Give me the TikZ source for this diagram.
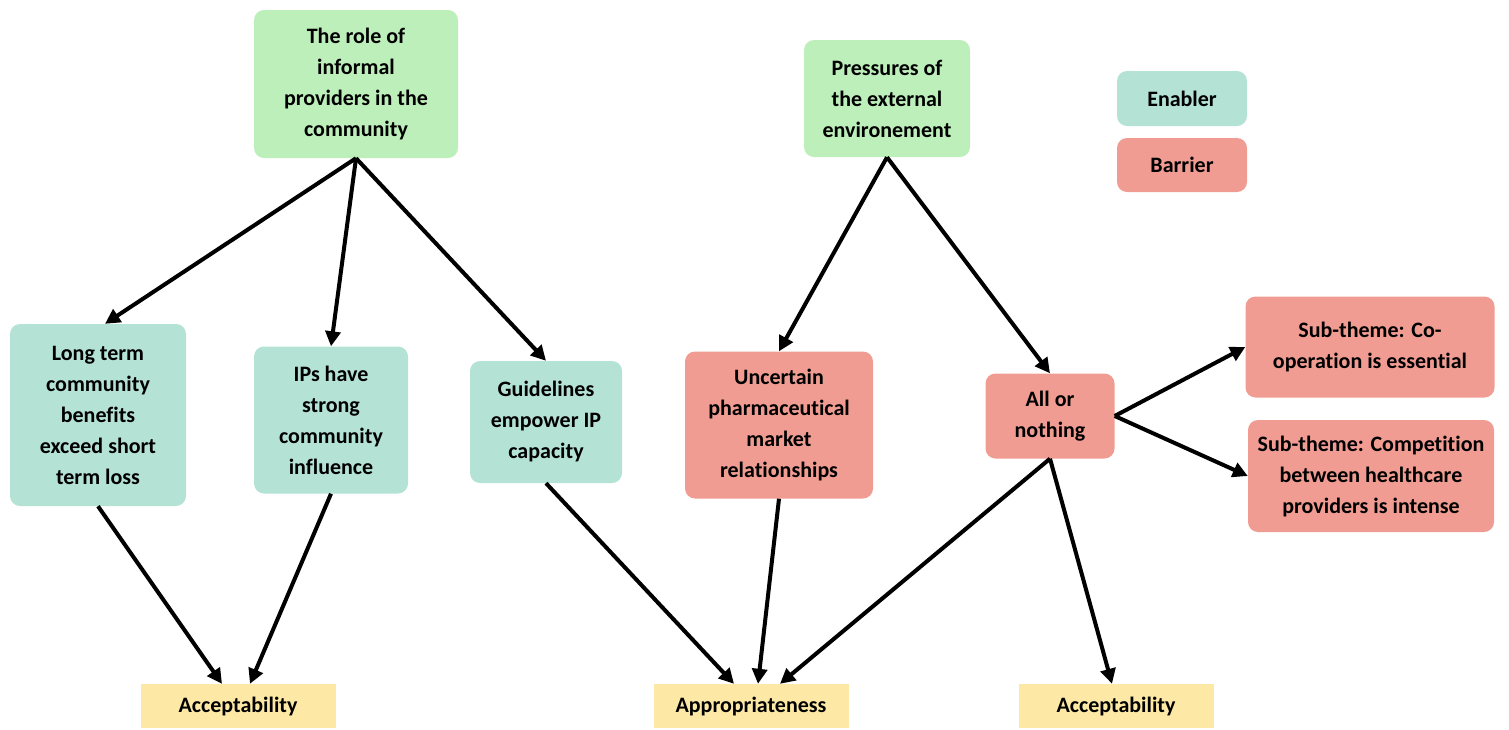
\documentclass[tikz,border=0pt]{standalone}
\usepackage{fontspec}
\setmainfont[Ligatures=NoCommon]{Carlito}
\usetikzlibrary{arrows.meta,calc}

\definecolor{themegreen}{HTML}{BDEFBA}
\definecolor{enablerteal}{HTML}{B4E2D5}
\definecolor{barrierred}{HTML}{F09C92}
\definecolor{outcomeyellow}{HTML}{FDE9A5}

\begin{document}
\begin{tikzpicture}[x=1pt, y=-1pt,
                    every box/.style = {align=center, inner sep=0pt, font=\fontsize{22}{31}\selectfont\bfseries},
                    theme/.style = {rounded corners=10pt, fill=themegreen, every box},
                    enabler/.style = {rounded corners=10pt, fill=enablerteal, every box},
                    barrier/.style = {rounded corners=10pt, fill=barrierred, every box},
                    outcome/.style = {fill=outcomeyellow, every box, minimum width=195pt, minimum height=44pt},
                    link/.style = {-{Triangle[length=15pt,width=15pt]}, line width=4pt, draw=black} ]

                \useasboundingbox (0,0) rectangle (1509,729);

                % themes
                \node [theme, minimum width=204pt, minimum height=148pt] (role) at (356,84) {The role of\\informal\\providers in the\\community};
                \node [theme, minimum width=166pt, minimum height=117pt] (pressures) at (887,98.5) {Pressures of\\the external\\environement};

                % legend
                \node [enabler, minimum width=130pt, minimum height=55pt] (keyenabler) at (1182,98.5) {Enabler};
                \node [barrier, minimum width=130pt, minimum height=54pt] (keybarrier) at (1182,165) {Barrier};

                % enablers and barriers
                \node [enabler, minimum width=176pt, minimum height=182pt] (longterm) at (98,415) {Long term\\community\\benefits\\exceed short\\term loss};
                \node [enabler, minimum width=154pt, minimum height=147pt] (influence) at (331,420) {IPs have\\strong\\community\\influence};
                \node [enabler, minimum width=152pt, minimum height=122pt] (guidelines) at (546,422) {Guidelines\\empower IP\\capacity};
                \node [barrier, minimum width=188pt, minimum height=147pt] (market) at (779,425) {Uncertain\\pharmaceutical\\market\\relationships};
                \node [barrier, minimum width=129pt, minimum height=85pt] (allnothing) at (1050,416) {All or\\nothing};
                \node [barrier, minimum width=249pt, minimum height=101pt] (cooperation) at (1370,347) {Sub-theme: Co-\\operation is essential};
                \node [barrier, minimum width=246pt, minimum height=112pt] (competition) at (1371,476) {Sub-theme: Competition\\between healthcare\\providers is intense};

                % outcomes
                \node [outcome] (acceptleft) at (238,706) {Acceptability};
                \node [outcome] (appropriate) at (751,706) {Appropriateness};
                \node [outcome] (acceptright) at (1116,706) {Acceptability};

                \draw [link] (role.south) -- ([xshift=7pt]longterm.north);
                \draw [link] (role.south) -- (influence.north);
                \draw [link] (role.south) -- (guidelines.north);
                \draw [link] (pressures.south) -- (market.north);
                \draw [link] (pressures.south) -- (allnothing.north);
                \draw [link] (allnothing.east) -- (cooperation.west);
                \draw [link] (allnothing.east) -- (competition.west);

                \draw [link] (longterm.south) -- ([xshift=-16pt]acceptleft.north);
                \draw [link] (influence.south) -- ([xshift=12pt]acceptleft.north);
                \draw [link] (guidelines.south) -- ([xshift=-17pt]appropriate.north);
                \draw [link] (market.south) -- ([xshift=7pt]appropriate.north);
                \draw [link] (allnothing.south) -- ([xshift=29pt]appropriate.north);
                \draw [link] (allnothing.south) -- ([xshift=-4pt]acceptright.north);
            \end{tikzpicture}
\end{document}
